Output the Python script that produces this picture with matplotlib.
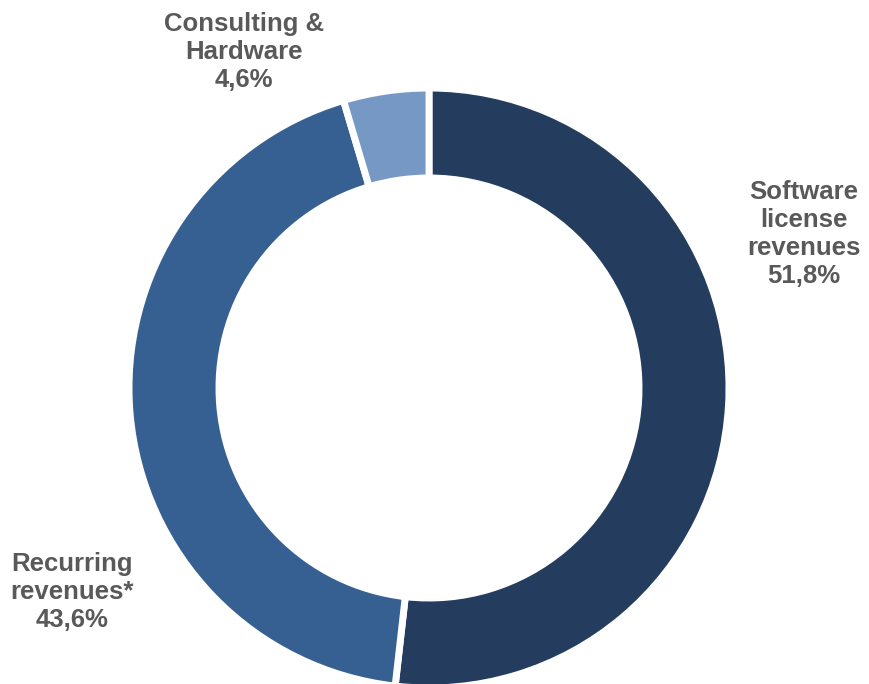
import matplotlib
matplotlib.use("Agg")
import matplotlib.pyplot as plt

# revenue split
segments = ["Software\nlicense\nrevenues", "Recurring\nrevenues*", "Consulting &\nHardware"]
shares = [51.8, 43.6, 4.6]
colors = ["#243C5D", "#366092", "#7598C4"]

W, H = 870, 684
cx, cy = 429, 388  # ring centre in pixels (from top-left)

fig = plt.figure(figsize=(W / 100, H / 100), dpi=100)
ax = fig.add_axes([0, 0, 1, 1])

ax.pie(shares, colors=colors, startangle=90, counterclock=False,
       radius=300, wedgeprops=dict(width=90, edgecolor="white", linewidth=5))

ax.set_xlim(-cx, W - cx)
ax.set_ylim(-(H - cy), cy)
ax.set_aspect("equal")
ax.axis("off")

# label positions in pixel coords (x, y from top)
label_pos = [(804, 234), (72, 592), (244, 52)]
for name, val, (lx, ly) in zip(segments, shares, label_pos):
    txt = name + "\n" + "{:.1f}%".format(val).replace(".", ",")
    ax.text(lx - cx, cy - ly, txt, ha="center", va="center",
            fontsize=18.5, fontweight="bold", color="#595959",
            family="Liberation Sans", linespacing=1.22)

fig.savefig("out.png", dpi=100)
